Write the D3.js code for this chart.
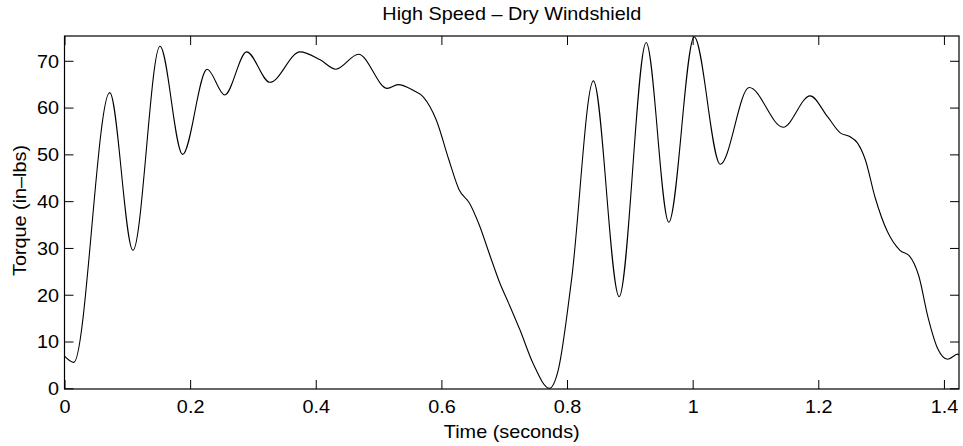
<!DOCTYPE html>
<html>
<head>
<meta charset="utf-8">
<script src="https://cdn.jsdelivr.net/npm/d3@7"></script>
<style>
  html, body { margin: 0; padding: 0; background: #fff; }
  svg { display: block; }
  text { font-family: "Liberation Sans", Arial, Helvetica, sans-serif; fill: #000; }
</style>
</head>
<body>
<svg id="chart" width="963" height="446"></svg>
<script>
// Wiper motor torque trace, sampled at its turning points and shoulders
const timeSec = [
  0, 0.0148, 0.072, 0.109, 0.152, 0.188, 0.227, 0.255, 0.290, 0.327,
  0.375, 0.407, 0.432, 0.468, 0.514, 0.531, 0.555, 0.571, 0.592,
  0.612, 0.628, 0.645, 0.660, 0.677, 0.693, 0.707, 0.725, 0.746, 0.772,
  0.786, 0.807, 0.842, 0.883, 0.926, 0.962, 1.0025, 1.044, 1.090, 1.144,
  1.187, 1.215, 1.235, 1.250, 1.262, 1.275, 1.290, 1.310, 1.330, 1.345,
  1.360, 1.375, 1.390, 1.406, 1.422, 1.424
];
const torqueInLbs = [
  6.9, 5.55, 63.2, 29.5, 73.1, 50.0, 68.2, 62.7, 71.9, 65.4,
  71.9, 70.2, 68.2, 71.4, 64.1, 64.9, 63.7, 62.3, 57.3,
  48.8, 42.5, 39.5, 35.0, 28.5, 22.5, 18.2, 12.5, 5.3, 0.0,
  3.9, 23.0, 65.7, 19.6, 73.9, 35.5, 75.1, 47.9, 64.3, 55.8,
  62.5, 58.0, 54.6, 53.8, 52.5, 48.8, 41.0, 33.5, 29.5, 28.3,
  24.0, 15.0, 8.5, 6.2, 7.3, 7.1
];
const xTickValues = [0, 0.2, 0.4, 0.6, 0.8, 1.0, 1.2, 1.4];
const xTickLabels = ["0", "0.2", "0.4", "0.6", "0.8", "1", "1.2", "1.4"];
const yTickValues = [0, 10, 20, 30, 40, 50, 60, 70];
const yTickLabels = ["0", "10", "20", "30", "40", "50", "60", "70"];
const titleText = "High Speed \u2013 Dry Windshield";
const xLabelText = "Time (seconds)";
const yLabelText = "Torque (in\u2013lbs)";

const W = 963, H = 446;
const box = { left: 64.5, right: 959, top: 36, bottom: 389 };
const fontSize = 17.7;
const stretch = 1.12;   // glyphs are drawn a little wide
const tickLen = 9;

const svg = d3.select("#chart");

const x = d3.scaleLinear().domain([0, 1.424]).range([box.left, box.right]);
const y = d3.scaleLinear().domain([-0.15, 75.3]).range([box.bottom, box.top]);

const data = timeSec.map((t, i) => ({ t, v: torqueInLbs[i] }));

// curve
const clipId = "plotclip";
svg.append("clipPath").attr("id", clipId)
  .append("rect")
  .attr("x", box.left).attr("y", box.top - 1)
  .attr("width", box.right - box.left).attr("height", box.bottom - box.top + 1);

svg.append("path")
  .datum(data)
  .attr("clip-path", `url(#${clipId})`)
  .attr("fill", "none")
  .attr("stroke", "#000")
  .attr("stroke-width", 1.1)
  .attr("d", d3.line().x(d => x(d.t)).y(d => y(d.v)).curve(d3.curveMonotoneX));

// axes: ticks point inward and repeat on the top and right edges
function styleAxis(g) {
  g.select(".domain").remove();
  g.selectAll(".tick line").attr("stroke", "#000").attr("stroke-width", 1);
}

const xFmt = d => xTickLabels[xTickValues.indexOf(d)];
const yFmt = d => yTickLabels[yTickValues.indexOf(d)];

const gx = svg.append("g").attr("transform", `translate(0,${box.bottom})`)
  .call(d3.axisBottom(x).tickValues(xTickValues).tickFormat(xFmt).tickSize(-tickLen));
styleAxis(gx);
gx.selectAll(".tick text")
  .attr("y", 0).attr("dy", null)
  .attr("transform", `translate(0,24) scale(${stretch},1)`)
  .attr("font-size", fontSize).attr("font-family", null);

const gxTop = svg.append("g").attr("transform", `translate(0,${box.top})`)
  .call(d3.axisTop(x).tickValues(xTickValues).tickFormat("").tickSize(-tickLen));
styleAxis(gxTop);

const gy = svg.append("g").attr("transform", `translate(${box.left},0)`)
  .call(d3.axisLeft(y).tickValues(yTickValues).tickFormat(yFmt).tickSize(-tickLen));
styleAxis(gy);
gy.selectAll(".tick text")
  .attr("x", 0).attr("dy", null).attr("y", 0)
  .attr("text-anchor", "end")
  .attr("transform", `translate(-5.5,6.4) scale(${stretch},1)`)
  .attr("font-size", fontSize).attr("font-family", null);

const gyRight = svg.append("g").attr("transform", `translate(${box.right},0)`)
  .call(d3.axisRight(y).tickValues(yTickValues).tickFormat("").tickSize(-tickLen));
styleAxis(gyRight);

// frame
svg.append("rect")
  .attr("x", box.left).attr("y", box.top)
  .attr("width", box.right - box.left).attr("height", box.bottom - box.top)
  .attr("fill", "none").attr("stroke", "#000").attr("stroke-width", 1.2);

// title and axis labels
const cx = (box.left + box.right) / 2;
svg.append("text")
  .attr("transform", `translate(${cx},20) scale(${stretch},1)`)
  .attr("text-anchor", "middle").attr("font-size", fontSize)
  .text(titleText);

svg.append("text")
  .attr("transform", `translate(${cx},437.5) scale(${stretch},1)`)
  .attr("text-anchor", "middle").attr("font-size", fontSize)
  .text(xLabelText);

svg.append("text")
  .attr("transform", `translate(26,210.5) rotate(-90) scale(${stretch},1)`)
  .attr("text-anchor", "middle").attr("font-size", fontSize)
  .text(yLabelText);
</script>
</body>
</html>
